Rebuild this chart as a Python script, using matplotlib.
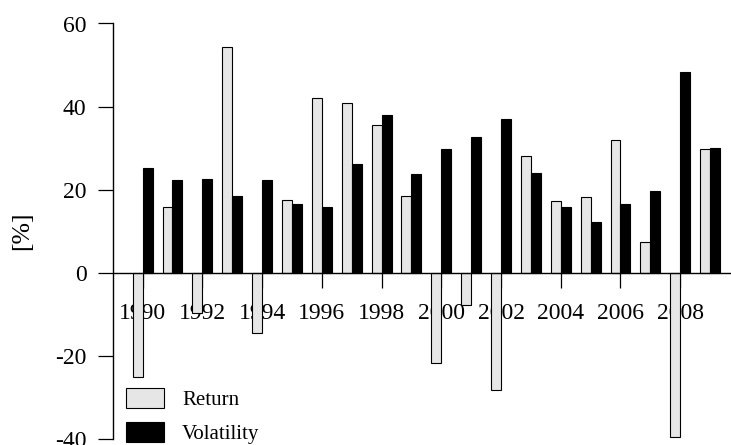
import matplotlib
matplotlib.use("Agg")

import numpy as np
import matplotlib.pyplot as plt
from matplotlib.ticker import FuncFormatter

plt.rcParams["font.family"] = ["Liberation Serif", "DejaVu Serif"]

# 연도별 수익률 / 변동성 [%]
years = list(range(1990, 2010))
returns = [-25.2, 15.7, -9.8, 54.3, -14.6, 17.6, 42.1, 40.8, 35.6, 18.4,
           -21.8, -7.8, -28.2, 28.2, 17.3, 18.2, 31.9, 7.3, -39.5, 29.9]
volatility = [25.2, 22.3, 22.6, 18.4, 22.4, 16.6, 15.7, 26.1, 38.0, 23.8,
              29.9, 32.7, 37.1, 24.1, 15.7, 12.2, 16.5, 19.6, 48.3, 30.1]
year_labels = [str(y) for y in years[::2]]

W, H = 731, 445
fig = plt.figure(figsize=(W / 100, H / 100), dpi=100)
ax = fig.add_axes([113 / W, 1 - 438.8 / H, 1 - 113 / W, (438.8 - 23.5) / H])

# 막대 위치: 그룹마다 폭 1짜리 막대 2개 + 간격 1
n = len(years)
left = 3 * np.arange(n) + 1
ax.bar(left, returns, width=1, align="edge", color="#e6e6e6",
       edgecolor="black", linewidth=0.8, label="Return")
ax.bar(left + 1, volatility, width=1, align="edge", color="black",
       edgecolor="black", linewidth=0.8, label="Volatility")
ax.axhline(0, color="black", linewidth=1.0, zorder=2)

ax.set_xlim(-0.975, 61.1)
ax.set_ylim(-40, 60)

# x축은 0 위치에, 막대 아래에 그림
ax.set_axisbelow(True)
ax.spines["bottom"].set_position(("data", 0))
ax.spines["bottom"].set_visible(False)
ax.spines["top"].set_visible(False)
ax.spines["right"].set_visible(False)
ax.spines["left"].set_bounds(-40, 60)
ax.spines["left"].set_linewidth(1.0)

ax.set_xticks(left[::2] + 1)
ax.set_xticklabels(year_labels)
ax.tick_params(axis="x", direction="out", length=11, width=0.9, pad=11,
               labelsize=17)
ax.set_yticks([-40, -20, 0, 20, 40, 60])
ax.yaxis.set_major_formatter(FuncFormatter(lambda v, p: f"{v:.0f}".replace("\u2212", "-")))
ax.tick_params(axis="y", direction="out", length=11, width=0.9, pad=8,
               labelsize=17)

fig.text(22 / W, 1 - 231 / H, "[%]", rotation=90, ha="center", va="center",
         fontsize=18.5)

ax.legend(loc="upper left", bbox_to_anchor=(126 / W, 1 - 387.7 / H),
          bbox_transform=fig.transFigure, frameon=False, fontsize=15,
          handlelength=1.8, handleheight=1.1, handletextpad=0.9,
          labelspacing=0.6, borderpad=0, borderaxespad=0)

fig.savefig("out.png", dpi=100)
